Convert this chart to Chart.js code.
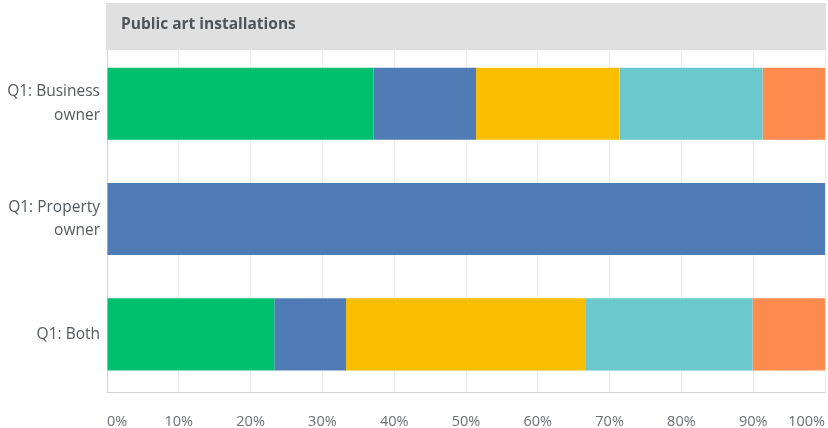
<!DOCTYPE html>
<html>
<head>
<meta charset="utf-8">
<script src="https://cdn.jsdelivr.net/npm/chart.js@4/dist/chart.umd.min.js"></script>
<style>
  html, body { margin: 0; padding: 0; background: #fff; }
  #wrap { width: 828px; height: 428px; position: relative; }
</style>
</head>
<body>
<div id="wrap"><canvas id="chart" width="828" height="428"></canvas></div>
<script>
'use strict';

const title = 'Public art installations';
const categories = [['Q1: Business', 'owner'], ['Q1: Property', 'owner'], 'Q1: Both'];
const seriesNames = ['Answer 1', 'Answer 2', 'Answer 3', 'Answer 4', 'Answer 5'];
const colors = ['#00bf6f', '#507cb6', '#f9be00', '#6bc8cd', '#ff8b4f'];

// percent per row, one array per answer
const answer1 = [37.1, 0, 23.3];
const answer2 = [14.3, 100, 10.0];
const answer3 = [20.0, 0, 33.3];
const answer4 = [19.9, 0, 23.3];
const answer5 = [8.7, 0, 10.1];
const seriesValues = [answer1, answer2, answer3, answer4, answer5];

const FONT = "'Open Sans', sans-serif";

// gray heading strip above the plot
const headerBand = {
  id: 'headerBand',
  afterDraw(chart) {
    const { ctx, chartArea } = chart;
    ctx.save();
    ctx.fillStyle = '#e0e0e0';
    ctx.fillRect(chartArea.left - 1, 3, chart.width - chartArea.left - 1, 47);
    ctx.fillStyle = '#4f5459';
    ctx.font = 'bold 15.5px ' + FONT;
    ctx.textBaseline = 'middle';
    ctx.fillText(title, chartArea.left + 14, 25);
    ctx.restore();
  },
};

new Chart(document.getElementById('chart'), {
  type: 'bar',
  data: {
    labels: categories,
    datasets: seriesValues.map((vals, i) => ({
      label: seriesNames[i],
      data: vals,
      backgroundColor: colors[i],
      borderWidth: 0,
      barPercentage: 0.625,
      categoryPercentage: 1,
    })),
  },
  options: {
    indexAxis: 'y',
    responsive: false,
    animation: false,
    layout: { padding: { top: 46, right: 3, left: 0, bottom: 0 } },
    plugins: {
      legend: { display: false },
      tooltip: { enabled: false },
    },
    scales: {
      x: {
        stacked: true,
        min: 0,
        max: 100,
        afterFit: (s) => { s.height = 36; s.paddingLeft = 0; s.paddingRight = 0; },
        border: { color: '#d4d4d4' },
        grid: { color: '#ececec', drawTicks: false },
        ticks: {
          stepSize: 10,
          align: 'inner',
          padding: 21,
          color: '#6b7075',
          font: { family: FONT, size: 14.5 },
          callback: (v) => v + '%',
        },
      },
      y: {
        stacked: true,
        afterFit: (s) => { s.width = 107; s.paddingTop = 0; s.paddingBottom = 0; },
        border: { color: '#d4d4d4' },
        grid: { display: false, drawTicks: false },
        ticks: {
          padding: 7,
          color: '#54595e',
          font: { family: FONT, size: 15.5, lineHeight: 1.5 },
        },
      },
    },
  },
  plugins: [headerBand],
});
</script>
</body>
</html>
